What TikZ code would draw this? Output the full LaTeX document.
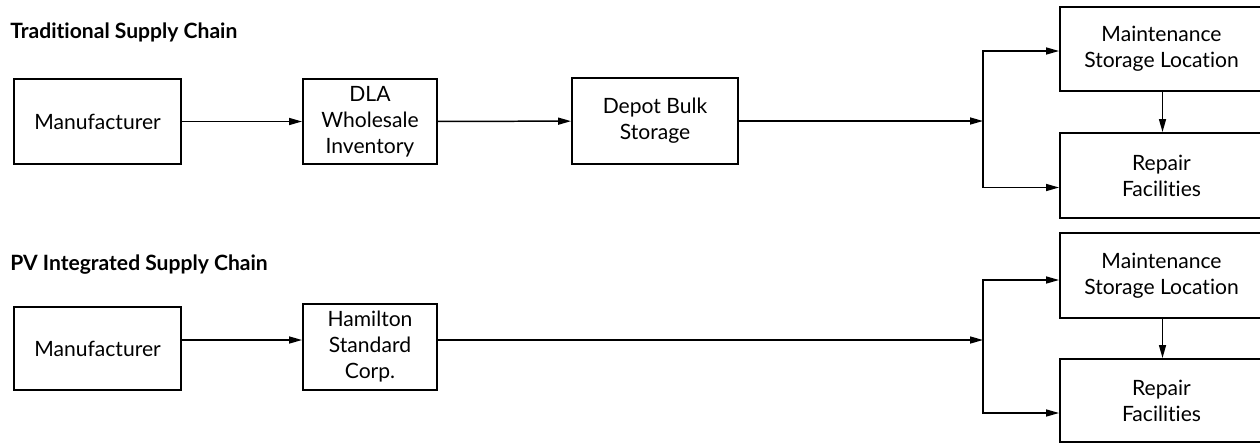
\documentclass[tikz,border=0pt]{standalone}
\usepackage{fontspec}
\setmainfont{Lato}[Ligatures=NoCommon]
\usepackage{tikz}
\usetikzlibrary{arrows.meta}
\usetikzlibrary{positioning, calc}

\tikzset{
  box/.style={draw=black, line width=1.1pt, align=center, inner sep=0pt,
              font=\fontsize{12}{14.8}\selectfont},
  chaintitle/.style={anchor=base west, inner sep=0pt,
              font=\fontsize{12}{14}\selectfont\bfseries},
}

\begin{document}
\begin{tikzpicture}[x=0.02cm, y=-0.02cm]
\useasboundingbox (0,0) rectangle (1260,444);

\node[chaintitle] (title1) at (10,38) {Traditional Supply Chain};
\node[chaintitle] (title2) at (10,270) {PV Integrated Supply Chain};

\begin{scope}[every node/.style={box}]
    % traditional chain
    \node[minimum width=3.34cm, minimum height=1.7cm] (man1) at (97.5,121.5) {Manufacturer};
    \node[minimum width=2.68cm, minimum height=1.7cm] (dla) at (370,121.5) {DLA\\Wholesale\\Inventory};
    \node[minimum width=3.32cm, minimum height=1.72cm] (depot) at (655,121) {Depot Bulk\\Storage};
    \node[minimum width=4.06cm, minimum height=1.68cm] (maint1) at (1161.5,49) {Maintenance\\Storage Location};
    \node[minimum width=4.06cm, minimum height=1.7cm] (rep1) at (1161.5,175.5) {Repair\\Facilities};
    % integrated chain
    \node[minimum width=3.34cm, minimum height=1.66cm] (man2) at (97.5,348.5) {Manufacturer};
    \node[minimum width=2.68cm, minimum height=1.72cm] (ham) at (370,347) {Hamilton\\Standard\\Corp.};
    \node[minimum width=4.06cm, minimum height=1.7cm] (maint2) at (1161.5,275.5) {Maintenance\\Storage Location};
    \node[minimum width=4.06cm, minimum height=1.66cm] (rep2) at (1161.5,400.5) {Repair\\Facilities};
\end{scope}

\coordinate (split1) at (983,121);
\coordinate (split2) at (983,340);

\begin{scope}[>={Triangle[length=2.6mm,width=1.4mm]},
              every edge/.style={draw=black, line width=0.85pt}]
    \path [->] (man1) edge (dla);
    \path [->] (dla) edge (depot);
    \path [->] (depot.east |- split1) edge (split1);
    \path [->] ([xshift=0.02cm]maint1.south) edge ([xshift=0.02cm]rep1.north);
    \path [->] (man2.east |- split2) edge (ham.west |- split2);
    \path [->] (ham.east |- split2) edge (split2);
    \path [->] ([xshift=0.02cm]maint2.south) edge ([xshift=0.02cm]rep2.north);
\end{scope}

\begin{scope}[>={Triangle[length=2.6mm,width=1.4mm]}, line width=0.85pt]
    \draw [->] (split1) |- ([yshift=-0.04cm]maint1.west);
    \draw [->] (split1) |- ([yshift=-0.24cm]rep1.west);
    \draw [->] (split2) |- ([yshift=-0.09cm]maint2.west);
    \draw [->] (split2) |- ([yshift=-0.25cm]rep2.west);
\end{scope}
\end{tikzpicture}
\end{document}
